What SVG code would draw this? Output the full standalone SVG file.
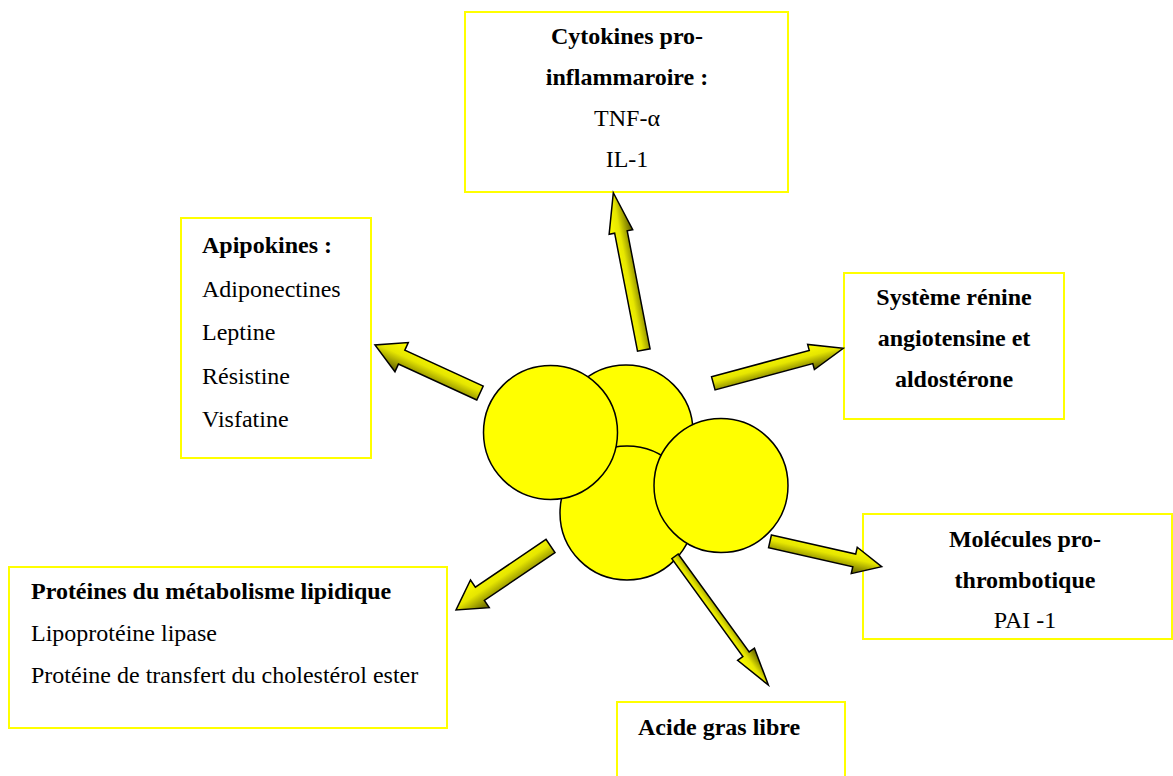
<svg xmlns="http://www.w3.org/2000/svg" width="1173" height="776" viewBox="0 0 1173 776">
  <style>
    .box { fill: #ffffff; stroke: #ffff00; stroke-width: 2; }
    .t { font-family: "Liberation Serif", "Times New Roman", serif; font-size: 24px; fill: #000000; }
    .b { font-weight: bold; }
    .c { text-anchor: middle; }
    .cell { fill: #ffff00; stroke: #000000; stroke-width: 1.5; }
    .arr { stroke: #000000; stroke-width: 1.5; stroke-linejoin: miter; }
  </style>
  <defs>
    <linearGradient id="gA" x1="0" y1="0" x2="0" y2="1">
      <stop offset="0" stop-color="#ffff00"/>
      <stop offset="0.45" stop-color="#e6e600"/>
      <stop offset="1" stop-color="#5c5c00"/>
    </linearGradient>
    <linearGradient id="gB" x1="0" y1="1" x2="0" y2="0">
      <stop offset="0" stop-color="#ffff00"/>
      <stop offset="0.45" stop-color="#e6e600"/>
      <stop offset="1" stop-color="#5c5c00"/>
    </linearGradient>
  </defs>
  <rect width="1173" height="776" fill="#ffffff"/>

  <g id="cytokines">
    <rect class="box" x="465" y="12" width="323" height="180"/>
    <text class="t b c" x="627" y="44">Cytokines pro-</text>
    <text class="t b c" x="627" y="85">inflammaroire :</text>
    <text class="t c" x="627" y="126">TNF-α</text>
    <text class="t c" x="627" y="167">IL-1</text>
  </g>

  <g id="apipokines">
    <rect class="box" x="181" y="218" width="190" height="240"/>
    <text class="t b" x="202" y="253">Apipokines :</text>
    <text class="t" x="202" y="297">Adiponectines</text>
    <text class="t" x="202" y="340">Leptine</text>
    <text class="t" x="202" y="384">Résistine</text>
    <text class="t" x="202" y="427">Visfatine</text>
  </g>

  <g id="systeme">
    <rect class="box" x="844" y="273" width="220" height="146"/>
    <text class="t b c" x="954" y="305">Système rénine</text>
    <text class="t b c" x="954" y="346">angiotensine et</text>
    <text class="t b c" x="954" y="387">aldostérone</text>
  </g>

  <g id="molecules">
    <rect class="box" x="863" y="514" width="309" height="125"/>
    <text class="t b c" x="1025" y="547">Molécules pro-</text>
    <text class="t b c" x="1025" y="588">thrombotique</text>
    <text class="t c" x="1025" y="628">PAI -1</text>
  </g>

  <g id="proteines">
    <rect class="box" x="9" y="567" width="438" height="161"/>
    <text class="t b" x="31" y="599">Protéines du métabolisme lipidique</text>
    <text class="t" x="31" y="641">Lipoprotéine lipase</text>
    <text class="t" x="31" y="683">Protéine de transfert du cholestérol ester</text>
  </g>

  <g id="acide">
    <rect class="box" x="617" y="702" width="228" height="82"/>
    <text class="t b" x="638" y="735">Acide gras libre</text>
  </g>

  <g id="adipocytes">
    <circle class="cell" cx="626" cy="432" r="67"/>
    <circle class="cell" cx="627" cy="513" r="67"/>
    <circle class="cell" cx="550.5" cy="432.5" r="67"/>
    <circle class="cell" cx="721" cy="485.5" r="67"/>
  </g>

  <g id="connectors">
    <path class="arr" fill="url(#gA)" transform="translate(643.8,350) rotate(-100.97)" d="M0,-6.4 L120.2,-6.4 L120.2,-12 L160.2,0 L120.2,12 L120.2,6.4 L0,6.4 Z"/>
    <path class="arr" fill="url(#gB)" transform="translate(480,393) rotate(-155.4)" d="M0,-7.7 L86.2,-7.7 L86.2,-16 L115.5,0 L86.2,16 L86.2,7.7 L0,7.7 Z"/>
    <path class="arr" fill="url(#gA)" transform="translate(713.3,383.3) rotate(-15.07)" d="M0,-6.8 L101.2,-6.8 L101.2,-13 L134.6,0 L101.2,13 L101.2,6.8 L0,6.8 Z"/>
    <path class="arr" fill="url(#gA)" transform="translate(770,541.3) rotate(12.8)" d="M0,-6.5 L86.4,-6.5 L86.4,-13.5 L114.5,0 L86.4,13.5 L86.4,6.5 L0,6.5 Z"/>
    <path class="arr" fill="url(#gB)" transform="translate(675,556.3) rotate(54.06)" d="M0,-3.9 L121,-3.9 L121,-10.4 L159,0 L121,10.4 L121,3.9 L0,3.9 Z"/>
    <path class="arr" fill="url(#gB)" transform="translate(550.5,546) rotate(145.9)" d="M0,-8 L85.3,-8 L85.3,-16.7 L114.1,0 L85.3,16.7 L85.3,8 L0,8 Z"/>
  </g>
</svg>
